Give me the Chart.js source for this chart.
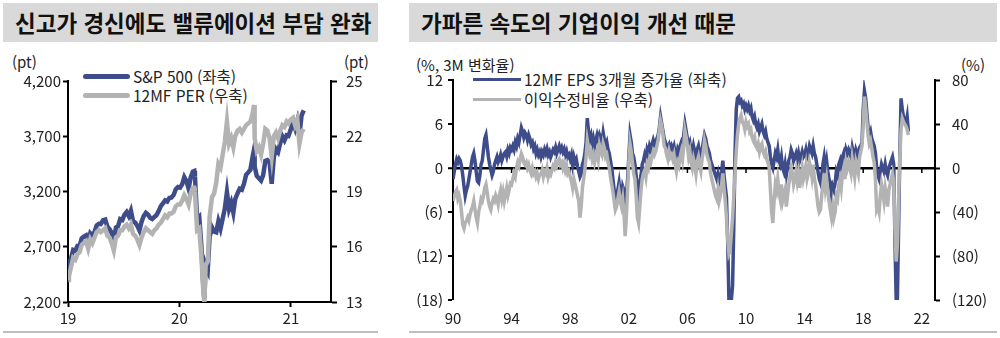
<!DOCTYPE html>
<html lang="ko">
<head>
<meta charset="utf-8">
<script src="https://cdn.jsdelivr.net/npm/chart.js@4.4.1/dist/chart.umd.min.js"></script>
<style>
  html, body { margin: 0; padding: 0; background: #fff; }
  body { width: 1000px; height: 338px; position: relative; overflow: hidden; font-family: "Noto Sans CJK KR", "Noto Sans", sans-serif; color: #222; }
  .title { position: absolute; top: 3px; height: 39px; line-height: 39px; background: #d9d9d9; font-size: 22.5px; font-weight: 700; color: #111; padding-left: 12px; box-sizing: border-box; white-space: nowrap; overflow: hidden; }
  .rule { position: absolute; top: 331px; height: 2px; background: #bfbfbf; }
  .unit { position: absolute; font-size: 15px; line-height: 16px; }
  .leg { position: absolute; font-size: 15.5px; line-height: 16px; white-space: nowrap; }
  .leg i { position: absolute; display: block; }
  canvas { position: absolute; top: 50px; }
</style>
</head>
<body>
<div class="title" style="left:3px;width:375px;">신고가 경신에도 밸류에이션 부담 완화</div>
<div class="title" style="left:409px;width:588px;">가파른 속도의 기업이익 개선 때문</div>
<div class="rule" style="left:3px;width:375px;"></div>
<div class="rule" style="left:409px;width:588px;"></div>

<div class="unit" style="left:12px;top:54px;">(pt)</div>
<div class="unit" style="left:344px;top:54px;">(pt)</div>
<div class="unit" style="left:416px;top:57px;">(%, 3M 변화율)</div>
<div class="unit" style="left:961px;top:57px;">(%)</div>

<div class="leg" style="left:133px;top:68px;"><i style="left:-50px;top:6px;width:47px;height:5px;background:#3e4c8a;border-radius:3px;"></i>S&amp;P 500 (좌축)</div>
<div class="leg" style="left:133px;top:87px;"><i style="left:-50px;top:6px;width:47px;height:5px;background:#b3b3b3;border-radius:3px;"></i>12MF PER (우축)</div>
<div class="leg" style="left:524px;top:71px;"><i style="left:-51px;top:7px;width:48px;height:3px;background:#3e4c8a;"></i>12MF EPS 3개월 증가율 (좌축)</div>
<div class="leg" style="left:524px;top:91px;"><i style="left:-51px;top:7px;width:48px;height:3px;background:#b3b3b3;"></i>이익수정비율 (우축)</div>

<canvas id="leftChart" width="390" height="282" style="left:0px;"></canvas>
<canvas id="rightChart" width="600" height="282" style="left:400px;"></canvas>

<script>
// ---- left panel: S&P 500 vs 12M forward PER (weekly) ----
const spxDates = [
  "2019-01-02","2019-01-04","2019-01-11","2019-01-18","2019-01-25","2019-02-01","2019-02-08","2019-02-15","2019-02-22","2019-03-01","2019-03-08","2019-03-15","2019-03-22","2019-03-29",
  "2019-04-05","2019-04-12","2019-04-18","2019-04-26","2019-05-03","2019-05-10","2019-05-17","2019-05-24","2019-05-31","2019-06-07","2019-06-14","2019-06-21","2019-06-28",
  "2019-07-05","2019-07-12","2019-07-19","2019-07-26","2019-08-02","2019-08-09","2019-08-16","2019-08-23","2019-08-30","2019-09-06","2019-09-13","2019-09-20","2019-09-27",
  "2019-10-04","2019-10-11","2019-10-18","2019-10-25","2019-11-01","2019-11-08","2019-11-15","2019-11-22","2019-11-29","2019-12-06","2019-12-13","2019-12-20","2019-12-27",
  "2020-01-03","2020-01-10","2020-01-17","2020-01-24","2020-01-31","2020-02-07","2020-02-14","2020-02-19","2020-02-21","2020-02-28","2020-03-06","2020-03-13","2020-03-20","2020-03-23","2020-03-27",
  "2020-04-03","2020-04-09","2020-04-17","2020-04-24","2020-05-01","2020-05-08","2020-05-15","2020-05-22","2020-05-29","2020-06-05","2020-06-12","2020-06-19","2020-06-26",
  "2020-07-02","2020-07-10","2020-07-17","2020-07-24","2020-07-31","2020-08-07","2020-08-14","2020-08-21","2020-08-28","2020-09-02","2020-09-04","2020-09-11","2020-09-18","2020-09-25",
  "2020-10-02","2020-10-09","2020-10-16","2020-10-23","2020-10-30","2020-11-06","2020-11-13","2020-11-20","2020-11-27","2020-12-04","2020-12-11","2020-12-18","2020-12-24","2020-12-31",
  "2021-01-08","2021-01-15","2021-01-22","2021-01-29","2021-02-05","2021-02-12"
];
const spx = [
  2510, 2532, 2596, 2671, 2665, 2707, 2708, 2776, 2793, 2804, 2743, 2822, 2801, 2834,
  2893, 2907, 2905, 2940, 2946, 2881, 2860, 2826, 2752, 2873, 2887, 2950, 2942,
  2990, 3014, 2977, 3026, 2932, 2919, 2889, 2847, 2926, 2979, 3007, 2992, 2962,
  2952, 2970, 2986, 3023, 3067, 3093, 3120, 3110, 3141, 3146, 3169, 3221, 3240,
  3235, 3265, 3330, 3295, 3226, 3328, 3380, 3386, 3338, 2954, 2972, 2711, 2305, 2237, 2541,
  2489, 2790, 2875, 2837, 2831, 2930, 2864, 2955, 3044, 3194, 3041, 3098, 3009,
  3130, 3185, 3225, 3216, 3271, 3351, 3373, 3397, 3508, 3580, 3427, 3341, 3319, 3298,
  3348, 3477, 3484, 3465, 3270, 3510, 3585, 3558, 3638, 3699, 3663, 3709, 3703, 3756,
  3825, 3768, 3841, 3714, 3887, 3934
];
const per = [
  14.2, 14.4, 14.9, 15.4, 15.3, 15.6, 15.7, 16.1, 16.2, 16.3, 15.9, 16.4, 16.2, 16.5,
  16.8, 16.9, 16.8, 16.9, 17.0, 16.6, 16.5, 16.2, 15.8, 16.5, 16.6, 16.9, 16.9,
  17.1, 17.2, 17.0, 17.2, 16.7, 16.6, 16.4, 16.1, 16.5, 16.8, 17.0, 16.9, 16.8,
  16.7, 16.9, 17.0, 17.2, 17.3, 17.5, 17.7, 17.6, 17.8, 17.8, 17.9, 18.2, 18.3,
  18.3, 18.5, 18.8, 18.6, 18.3, 18.9, 19.2, 19.2, 19.0, 16.9, 17.0, 15.5, 13.4, 13.0, 15.0,
  15.2, 17.6, 18.7, 18.9, 19.5, 20.5, 20.3, 21.0, 21.7, 22.8, 21.6, 21.9, 21.4,
  22.0, 22.3, 22.4, 22.2, 22.4, 22.6, 22.7, 22.8, 23.2, 23.7, 21.9, 21.2, 21.4, 21.0,
  21.6, 22.4, 22.3, 21.9, 20.9, 22.0, 22.2, 21.9, 22.3, 22.6, 22.5, 22.8, 22.7, 22.9,
  23.0, 22.6, 22.9, 21.6, 22.2, 22.4
];
const spxTicks = [2200, 2700, 3200, 3700, 4200];
const perTicks = [13, 16, 19, 22, 25];
const yearTicksLeft = [2019, 2020, 2021];

// ---- right panel: monthly, from 1990-01 ----
const firstYear = 1990;
const epsGrowth = [
  -1.5, -0.5, 0.5, 1.2, 0.8, 1.3, 1.0, 0.2, -1.0, -2.5, -3.8, -3.0,
  -2.5, -1.5, -0.5, 0.5, 1.5, 2.0, 1.0, -0.5, -1.8, -2.0, -1.0, 0.5,
  1.0, 2.5, 4.0, 4.5, 3.0, 1.5, 0.5, -0.3, -1.0, -0.5, 0.5, 1.0,
  1.5, 0.8, 1.2, 1.8, 1.0, 1.5, 2.0, 2.2, 1.6, 2.5, 2.0, 2.8,
  2.5, 3.0, 2.5, 3.5, 3.0, 4.0, 3.5, 4.5, 5.5, 5.0, 4.2, 4.8,
  4.5, 3.8, 4.5, 4.0, 3.2, 3.5, 2.6, 3.0, 2.0, 2.5, 1.8, 2.2,
  1.5, 2.2, 1.8, 2.5, 2.0, 2.6, 1.8, 2.2, 1.5, 2.0, 2.5, 2.2,
  2.8, 2.0, 2.5, 3.0, 2.4, 2.8, 2.2, 2.6, 1.8, 2.3, 1.5, 1.8,
  1.2, 1.8, 0.5, 1.5, 0.8, 1.2, 0.2, -0.5, -1.2, -0.8, 0.5, 1.0,
  2.0, 3.5, 6.8, 5.0, 4.0, 4.5, 3.2, 4.0, 3.0, 3.8, 4.5, 3.8,
  4.5, 4.0, 3.5, 4.8, 3.8, 3.0, 3.5, 2.5, 2.0, 1.0, 0.0, -1.5,
  -3.0, -5.0, -4.5, -3.0, -2.0, -3.5, -4.0, -2.5, -3.0, -5.0, -4.0, -1.5,
  1.5, 4.5, 3.5, 2.0, 1.5, 0.5, -1.0, -2.5, -3.5, -2.0, -1.0, 0.5,
  1.0, 1.8, 1.2, 2.5, 2.0, 3.0, 2.5, 3.2, 3.8, 3.2, 3.5, 4.0,
  4.5, 5.5, 7.0, 6.0, 5.0, 4.0, 3.5, 3.0, 2.8, 3.2, 2.5, 3.0,
  2.5, 3.0, 2.0, 1.5, 2.5, 2.0, 3.0, 3.5, 3.0, 4.5, 6.0, 5.0,
  4.0, 3.0, 3.5, 2.5, 2.0, 3.0, 2.2, 1.5, 2.5, 3.0, 2.0, 1.5,
  2.5, 3.5, 4.5, 4.0, 3.0, 2.5, 2.0, 1.0, 0.5, 0.0, -0.5, -1.0,
  -1.5, -0.8, -2.0, -1.5, -0.5, 1.0, -1.0, -2.5, -4.0, -10.0, -18.0, -18.0,
  -18.0, -16.0, -8.0, 2.0, 8.0, 9.5, 9.7, 9.0, 9.2, 8.5, 8.8, 8.0,
  8.5, 8.0, 8.5, 7.8, 8.2, 7.0, 6.5, 7.0, 6.0, 5.5, 6.0, 5.0,
  5.5, 6.0, 5.0, 4.5, 5.0, 4.0, 3.5, 3.0, 1.5, 0.5, 0.0, 1.0,
  2.0, 1.5, 2.5, 1.0, 0.5, 1.5, 0.0, -0.5, 0.5, -1.0, 0.0, 1.0,
  1.5, 2.5, 2.0, 1.0, 1.5, 2.0, 1.2, 2.0, 1.0, 1.5, 2.2, 1.5,
  1.8, 2.5, 1.5, 2.0, 3.0, 2.5, 2.0, 3.0, 2.0, 1.5, 0.5, -0.5,
  -1.5, -2.0, -1.0, 0.5, 1.5, 0.0, 1.0, -0.5, -1.5, -2.0, -3.5, -2.5,
  -3.0, -2.0, -0.5, -1.0, 0.5, 1.0, 0.0, 1.5, 2.0, 1.0, 2.5, 2.0,
  2.5, 2.0, 1.5, 2.8, 2.0, 1.5, 2.5, 2.0, 1.5, 2.8, 3.0, 3.5,
  8.0, 10.5, 9.5, 7.5, 5.5, 4.5, 5.0, 4.0, 3.5, 3.0, 2.0, 0.0,
  -1.0, -1.5, -0.5, 0.5, 0.0, -0.5, 0.5, -0.5, -1.0, 0.0, 0.5, 1.0,
  1.5, 0.5, -10.0, -18.0, -18.0, -8.0, 2.0, 9.5, 8.0, 7.0, 6.5, 6.0,
  7.0, 5.0
];
const revisionRatio = [
  -30, -26, -22, -20, -28, -25, -30, -40, -52, -55, -50, -48,
  -45, -48, -42, -38, -35, -30, -38, -45, -50, -40, -35, -28,
  -30, -25, -18, -15, -22, -30, -35, -38, -32, -28, -30, -25,
  -28, -33, -25, -20, -28, -22, -30, -24, -18, -25, -20, -14,
  -15, -10, -5, -8, 0, 5, 2, 8, 13, 10, 5, 3,
  5, 0, 3, -2, -5, 0, -5, -3, -8, -5, -10, -6,
  -6, -2, -8, -3, -5, 0, -8, -4, -6, -2, 2, 0,
  5, 2, 6, 8, 3, 5, 0, 4, -2, 2, -5, -3,
  -8, -12, -18, -10, -15, -20, -25, -30, -45, -35, -18, -10,
  -2, 10, 25, 18, 12, 15, 8, 12, 5, 10, 15, 8,
  20, 15, 12, 22, 18, 10, 12, 5, 0, -8, -15, -22,
  -30, -38, -35, -28, -22, -30, -35, -28, -40, -62, -45, -20,
  5, 22, 15, 5, -5, -10, -25, -45, -50, -35, -20, -10,
  -5, -2, -8, 3, 0, 8, 5, 10, 15, 12, 15, 20,
  25, 35, 43, 38, 30, 20, 18, 12, 8, 15, 10, 12,
  8, 12, 3, -3, 5, 2, 10, 15, 8, 20, 34, 28,
  20, 10, 15, 5, 0, 8, 3, -5, 6, 10, 2, -3,
  8, 15, 25, 20, 12, 8, 5, -5, -10, -15, -20, -25,
  -28, -20, -30, -25, -15, -5, -18, -30, -45, -65, -78, -75,
  -60, -45, -25, -5, 15, 30, 40, 45, 48, 42, 40, 35,
  42, 38, 40, 33, 35, 28, 25, 28, 20, 18, 22, 15,
  20, 22, 15, 12, 15, 8, 5, 0, -20, -40, -50, -30,
  -15, -20, -10, -22, -28, -15, -30, -25, -20, -35, -25, -15,
  -8, 0, -5, -15, -10, -3, -12, -5, -18, -8, 0, -10,
  -5, 2, -10, -5, 5, 0, -8, 3, -10, -15, -25, -35,
  -40, -38, -25, -15, -5, -18, -10, -22, -30, -38, -45, -35,
  -45, -40, -25, -28, -15, -10, -18, -5, 0, -10, 5, 0,
  5, 0, -5, 8, 0, -8, 5, 0, -5, 10, 15, 20,
  40, 65, 55, 42, 30, 22, 25, 18, 10, 5, -10, -38,
  -35, -40, -25, -15, -22, -30, -18, -25, -35, -20, -15, -10,
  -5, -12, -55, -85, -70, -30, 10, 35, 45, 42, 40, 38,
  35, 30
];
const epsTicks = [-18, -12, -6, 0, 6, 12];
const revTicks = [-120, -80, -40, 0, 40, 80];
const yearTicksRight = [1990, 1994, 1998, 2002, 2006, 2010, 2014, 2018, 2022];

const NAVY = "#3e4c8a";
const GRAY = "#b3b3b3";
const FONT = { family: "'Noto Sans CJK KR', 'Noto Sans', sans-serif", size: 15 };
const TICK_COLOR = "#222";

function toYear(s) {
    const [y, m, d] = s.split("-").map(Number);
    const start = Date.UTC(y, 0, 1), end = Date.UTC(y + 1, 0, 1);
    return y + (Date.UTC(y, m - 1, d) - start) / (end - start);
}
const yy = (v) => String(Math.round(v) % 100).padStart(2, "0");
const paren = (v) => v < 0 ? `(${Math.abs(v)})` : String(v);
const fixTicks = (list) => (scale) => { scale.ticks = list.map((v) => ({ value: v })); };
const fixWidth = (w) => (scale) => { scale.width = w; };
const fixHeight = (h) => (scale) => { scale.height = h; };

const axisGrid = (len) => ({ drawOnChartArea: false, drawTicks: true, tickLength: len, tickColor: "#000", tickWidth: 2 });

// left chart
const spxPts = spxDates.map((d, i) => ({ x: toYear(d), y: spx[i] }));
const perPts = spxDates.map((d, i) => ({ x: toYear(d), y: per[i] }));

new Chart(document.getElementById("leftChart"), {
    type: "line",
    data: {
        datasets: [
            { label: "12MF PER (우축)", data: perPts, yAxisID: "y1", borderColor: GRAY, borderWidth: 4.5, pointRadius: 0, tension: 0, order: 0 },
            { label: "S&P 500 (좌축)", data: spxPts, yAxisID: "y", borderColor: NAVY, borderWidth: 4.5, pointRadius: 0, tension: 0, order: 1 }
        ]
    },
    options: {
        responsive: false, animation: false, devicePixelRatio: 1,
        layout: { padding: { top: 31, left: 0, right: 0, bottom: 0 } },
        plugins: { legend: { display: false }, tooltip: { enabled: false } },
        scales: {
            x: {
                type: "linear", min: 2019, max: 2021.36,
                afterBuildTicks: fixTicks(yearTicksLeft), afterFit: fixHeight(30),
                grid: axisGrid(5), border: { color: "#000", width: 2 },
                ticks: { font: FONT, color: TICK_COLOR, padding: 2, maxRotation: 0, callback: yy }
            },
            y: {
                position: "left", min: 2200, max: 4200,
                afterBuildTicks: fixTicks(spxTicks), afterFit: fixWidth(68),
                grid: axisGrid(5), border: { color: "#000", width: 2 },
                ticks: { font: FONT, color: TICK_COLOR, padding: 2, callback: (v) => v.toLocaleString("en-US") }
            },
            y1: {
                position: "right", min: 13, max: 25,
                afterBuildTicks: fixTicks(perTicks), afterFit: fixWidth(59),
                grid: axisGrid(6), border: { color: "#000", width: 2 },
                ticks: { font: FONT, color: TICK_COLOR, padding: 9 }
            }
        }
    }
});

// right chart
const monthX = (i) => firstYear + i / 12;
const epsPts = epsGrowth.map((v, i) => ({ x: monthX(i), y: v }));
const revPts = revisionRatio.map((v, i) => ({ x: monthX(i), y: v }));

const zeroTicks = {
    id: "zeroTicks",
    beforeDatasetsDraw(chart) {
        const { ctx, scales: { x, y } } = chart;
        const y0 = y.getPixelForValue(0);
        ctx.save();
        ctx.strokeStyle = "#000";
        ctx.lineWidth = 1.5;
        yearTicksRight.forEach((v) => {
            const px = x.getPixelForValue(v);
            ctx.beginPath();
            ctx.moveTo(px, y0);
            ctx.lineTo(px, y0 + 5);
            ctx.stroke();
        });
        ctx.restore();
    }
};

new Chart(document.getElementById("rightChart"), {
    type: "line",
    data: {
        datasets: [
            { label: "이익수정비율 (우축)", data: revPts, yAxisID: "y1", borderColor: GRAY, borderWidth: 3.5, pointRadius: 0, tension: 0, order: 0 },
            { label: "12MF EPS 3개월 증가율 (좌축)", data: epsPts, yAxisID: "y", borderColor: NAVY, borderWidth: 3.5, pointRadius: 0, tension: 0, order: 1 }
        ]
    },
    options: {
        responsive: false, animation: false, devicePixelRatio: 1,
        layout: { padding: { top: 30, left: 0, right: 0, bottom: 0 } },
        plugins: { legend: { display: false }, tooltip: { enabled: false } },
        scales: {
            x: {
                type: "linear", min: 1990, max: 2022.9,
                afterBuildTicks: fixTicks(yearTicksRight), afterFit: fixHeight(32),
                grid: { display: false, drawTicks: false }, border: { display: false },
                ticks: { font: FONT, color: TICK_COLOR, padding: 9, maxRotation: 0, callback: yy }
            },
            y: {
                position: "left", min: -18, max: 12,
                afterBuildTicks: fixTicks(epsTicks), afterFit: fixWidth(53),
                grid: {
                    drawOnChartArea: true, drawTicks: true, tickLength: 5, tickColor: "#000", tickWidth: 2,
                    color: (c) => c.tick && c.tick.value === 0 ? "#000" : "rgba(0,0,0,0)",
                    lineWidth: (c) => c.tick && c.tick.value === 0 ? 2.5 : 0
                },
                border: { color: "#000", width: 2 },
                ticks: { font: FONT, color: TICK_COLOR, padding: 5, callback: paren }
            },
            y1: {
                position: "right", min: -120, max: 80,
                afterBuildTicks: fixTicks(revTicks), afterFit: fixWidth(65),
                grid: axisGrid(5), border: { color: "#000", width: 2 },
                ticks: { font: FONT, color: TICK_COLOR, padding: 12, callback: paren }
            }
        }
    },
    plugins: [zeroTicks]
});
</script>
</body>
</html>
